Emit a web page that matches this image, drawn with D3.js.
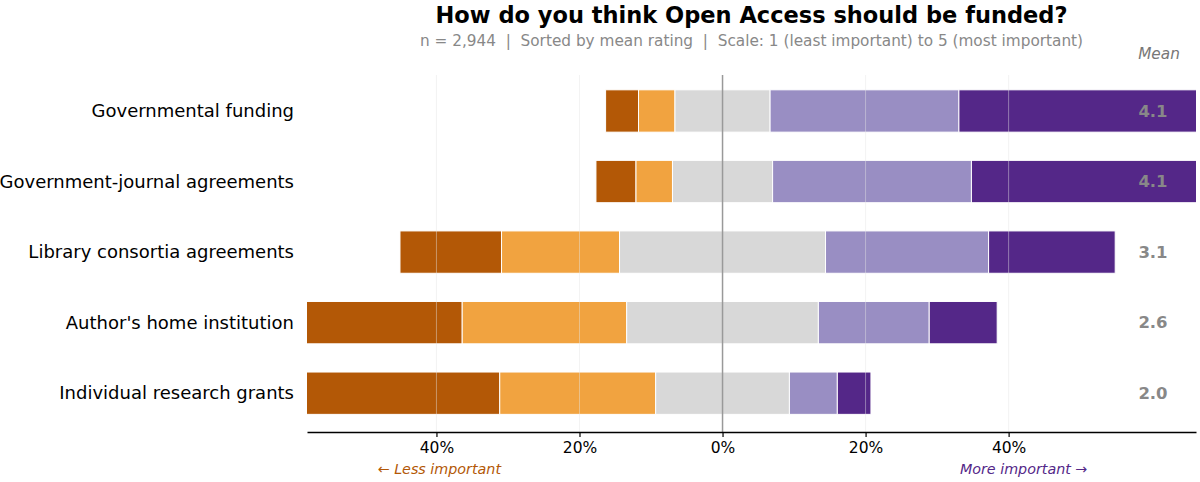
<!DOCTYPE html>
<html>
<head>
<meta charset="utf-8">
<script src="https://cdn.jsdelivr.net/npm/d3@7"></script>
<style>
  body { margin: 0; background: #fff; }
  svg { font-family: "DejaVu Sans", sans-serif; display: block; }
</style>
</head>
<body>
<svg></svg>
<script>
// categories, top to bottom (sorted by mean)
const CATEGORIES = [
  "Governmental funding",
  "Government-journal agreements",
  "Library consortia agreements",
  "Author's home institution",
  "Individual research grants"
];

// share of answers (%) per rating, same order as CATEGORIES
const RATING_1 = [4.6, 5.6, 14.2, 25.2, 48.1];
const RATING_2 = [5.1, 5.1, 16.5, 23.0, 21.8];
const RATING_3 = [13.3, 14.0, 28.8, 26.8, 18.7];
const RATING_4 = [26.4, 27.8, 22.8, 15.5, 6.7];
const RATING_5 = [50.6, 47.5, 17.7, 9.5, 4.7];

const MEANS = [4.1, 4.1, 3.1, 2.6, 2.0];

const TICKS = [-40, -20, 0, 20, 40];

const COLORS = ["#b35806", "#f1a340", "#d8d8d8", "#998ec3", "#542788"];

const WIDTH = 1200;
const HEIGHT = 482;
const PLOT = {left: 307, right: 1196, top: 75, bottom: 432};

const svg = d3.select('svg')
  .attr('width', WIDTH)
  .attr('height', HEIGHT);

const xScale = d3.scaleLinear().domain([-58.1, 66.2]).range([PLOT.left, PLOT.right]);
const yScale = d3.scaleLinear().domain([-0.51, 4.55]).range([PLOT.top, PLOT.bottom]);
const barH = (yScale(1) - yScale(0)) * 0.6;

// build stacked segments, neutral split around 0
const series = [RATING_1, RATING_2, RATING_3, RATING_4, RATING_5];
const segments = [];
CATEGORIES.forEach((cat, i) => {
  let start = -(series[0][i] + series[1][i] + series[2][i] / 2);
  series.forEach((s, k) => {
    segments.push({row: i, k: k, x0: start, x1: start + s[i]});
    start += s[i];
  });
});

svg.append('defs').append('clipPath').attr('id', 'plotclip')
  .append('rect')
  .attr('x', PLOT.left).attr('y', PLOT.top)
  .attr('width', PLOT.right - PLOT.left)
  .attr('height', PLOT.bottom - PLOT.top);

//bars
svg.append('g')
  .attr('clip-path', 'url(#plotclip)')
  .selectAll('rect')
  .data(segments)
  .enter()
  .append('rect')
  .attr('x', d => xScale(d.x0))
  .attr('width', d => xScale(d.x1) - xScale(d.x0))
  .attr('y', d => yScale(d.row) - barH / 2)
  .attr('height', barH)
  .attr('fill', d => COLORS[d.k])
  .attr('stroke', '#fff')
  .attr('stroke-width', 1);

//grid (faint, over the bars)
svg.append('g')
  .selectAll('line')
  .data(TICKS.filter(t => t !== 0))
  .enter()
  .append('line')
  .attr('x1', d => xScale(d)).attr('x2', d => xScale(d))
  .attr('y1', PLOT.top).attr('y2', PLOT.bottom)
  .attr('stroke', '#e4e4e4')
  .attr('stroke-opacity', 0.45)
  .attr('stroke-width', 1);

//zero line
svg.append('line')
  .attr('x1', xScale(0)).attr('x2', xScale(0))
  .attr('y1', PLOT.top).attr('y2', PLOT.bottom)
  .attr('stroke', '#999')
  .attr('stroke-width', 1.5);

//x axis
const xAxis = svg.append('g')
  .attr('transform', `translate(0, ${PLOT.bottom})`)
  .call(d3.axisBottom(xScale)
    .tickValues(TICKS)
    .tickFormat(d => Math.abs(d) + '%')
    .tickSize(5)
    .tickSizeOuter(0)
    .tickPadding(5));
xAxis.select('.domain').attr('stroke', '#000').attr('stroke-width', 1.5);
xAxis.selectAll('.tick line').attr('stroke', '#000').attr('stroke-width', 1.2);
xAxis.selectAll('.tick text')
  .attr('font-family', '"DejaVu Sans", sans-serif')
  .attr('font-size', 15.5)
  .attr('fill', '#000');

//category labels
svg.append('g')
  .selectAll('text')
  .data(CATEGORIES)
  .enter()
  .append('text')
  .text(d => d)
  .attr('x', PLOT.left - 13)
  .attr('y', (d, i) => yScale(i))
  .attr('dy', '0.35em')
  .attr('text-anchor', 'end')
  .attr('font-size', 18)
  .attr('fill', '#000');

//mean labels
svg.append('g')
  .selectAll('text')
  .data(MEANS)
  .enter()
  .append('text')
  .text(d => d.toFixed(1))
  .attr('x', 1153)
  .attr('y', (d, i) => yScale(i))
  .attr('dy', '0.35em')
  .attr('text-anchor', 'middle')
  .attr('font-size', 16.5)
  .attr('font-weight', 'bold')
  .attr('fill', '#888');

svg.append('text')
  .text('Mean')
  .attr('x', 1159).attr('y', 59)
  .attr('text-anchor', 'middle')
  .attr('font-size', 15.3)
  .attr('font-style', 'italic')
  .attr('fill', '#777');

//title
const cx = (PLOT.left + PLOT.right) / 2;
svg.append('text')
  .text('How do you think Open Access should be funded?')
  .attr('x', cx).attr('y', 23)
  .attr('text-anchor', 'middle')
  .attr('font-size', 22.5)
  .attr('font-weight', 'bold')
  .attr('fill', '#000');

svg.append('text')
  .text('n = 2,944  |  Sorted by mean rating  |  Scale: 1 (least important) to 5 (most important)')
  .attr('x', cx).attr('y', 46)
  .attr('text-anchor', 'middle')
  .attr('font-size', 15.3)
  .style('white-space', 'pre')
  .attr('fill', '#888');

//direction keys
svg.append('text')
  .text('\u2190 Less important')
  .attr('x', xScale(-39.6)).attr('y', 474)
  .attr('text-anchor', 'middle')
  .attr('font-size', 14.3)
  .attr('font-style', 'italic')
  .attr('fill', '#b35806');

svg.append('text')
  .text('More important \u2192')
  .attr('x', xScale(42.1)).attr('y', 474)
  .attr('text-anchor', 'middle')
  .attr('font-size', 14.3)
  .attr('font-style', 'italic')
  .attr('fill', '#542788');
</script>
</body>
</html>
